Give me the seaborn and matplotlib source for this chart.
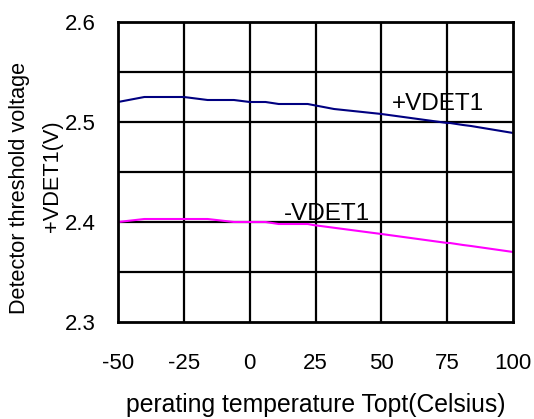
import matplotlib
matplotlib.use("Agg")
import matplotlib.pyplot as plt
import seaborn as sns
import pandas as pd

sns.set_style("white")
plt.rcParams['font.family'] = ['Liberation Sans', 'DejaVu Sans']
plt.rcParams['text.color'] = 'black'
plt.rcParams['axes.labelcolor'] = 'black'
plt.rcParams['xtick.color'] = 'black'
plt.rcParams['ytick.color'] = 'black'

# Data
temp_plus = [-50, -40, -25, -16, -6, 0, 6, 11, 22, 24, 32, 50, 75, 76, 81, 84, 100]
vdet_plus = [2.520, 2.525, 2.525, 2.522, 2.522, 2.520, 2.520, 2.518, 2.518, 2.517, 2.513, 2.508, 2.499, 2.499, 2.497, 2.496, 2.489]

temp_minus = [-50, -40, -16, -6, 0, 6, 11, 22, 24, 50, 75, 76, 81, 84, 100]
vdet_minus = [2.400, 2.403, 2.403, 2.400, 2.400, 2.400, 2.398, 2.398, 2.397, 2.388, 2.379, 2.379, 2.377, 2.376, 2.370]

x_ticks = [-50, -25, 0, 25, 50, 75, 100]
y_ticks = [2.3, 2.4, 2.5, 2.6]
y_grid = [2.35, 2.45, 2.55]

df_plus = pd.DataFrame({'temp': temp_plus, 'v': vdet_plus})
df_minus = pd.DataFrame({'temp': temp_minus, 'v': vdet_minus})

fig = plt.figure(figsize=(5.34, 4.19), dpi=100)
ax = fig.add_axes([0.221, 0.2315, 0.740, 0.716])

sns.lineplot(data=df_plus, x='temp', y='v', color='#000080', linewidth=1.5, ax=ax)
sns.lineplot(data=df_minus, x='temp', y='v', color='#FF00FF', linewidth=1.5, ax=ax)

ax.set_xlim(-50, 100)
ax.set_ylim(2.3, 2.6)
ax.set_xticks(x_ticks)
ax.set_xticklabels([str(t) for t in x_ticks], fontsize=16)
ax.set_yticks(y_ticks)
ax.set_yticklabels([f'{t:.1f}' for t in y_ticks], fontsize=16)
ax.tick_params(axis='x', length=0, pad=22)
ax.tick_params(axis='y', length=0, pad=16)

# grid
for t in x_ticks[1:-1]:
    ax.axvline(t, color='black', linewidth=1.6, zorder=1)
for v in y_ticks[1:-1] + y_grid:
    ax.axhline(v, color='black', linewidth=1.6, zorder=1)
for s in ax.spines.values():
    s.set_color('black')
    s.set_linewidth(2)

ax.set_xlabel('perating temperature Topt(Celsius)', fontsize=17.8, labelpad=14)
ax.set_ylabel('')

fig.text(0.036, 0.5525, 'Detector threshold voltage', rotation=90,
         ha='center', va='center', fontsize=15.6)
fig.text(0.099, 0.580, '+VDET1(V)', rotation=90,
         ha='center', va='center', fontsize=15.7)

ax.text(54, 2.518, '+VDET1', fontsize=17.5, va='center', ha='left')
ax.text(13, 2.408, '-VDET1', fontsize=17.5, va='center', ha='left')

fig.savefig('out.png', dpi=100)
